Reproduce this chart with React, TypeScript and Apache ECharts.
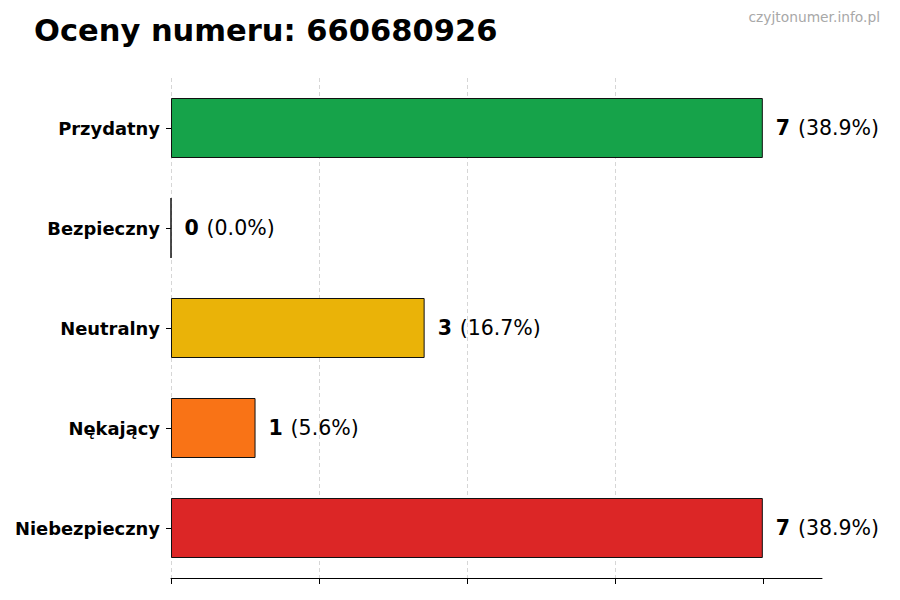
import React, { useEffect, useRef } from 'react'
import * as echarts from 'echarts'

const categories = ['Przydatny', 'Bezpieczny', 'Neutralny', 'Nękający', 'Niebezpieczny']
const counts = [7, 0, 3, 1, 7]
const barColors = ['#16a34a', '#9ca3af', '#eab308', '#f97316', '#dc2626']
const xTicks = [0, 1.75, 3.5, 5.25, 7]
const xMax = 7.7

const FONT = '"DejaVu Sans", sans-serif'

const App: React.FC = () => {
  const chartRef = useRef<HTMLDivElement>(null)

  useEffect(() => {
    document.body.style.margin = '0'
    if (!chartRef.current) return
    const chart = echarts.init(chartRef.current, undefined, { renderer: 'svg' })
    const total = counts.reduce((a, b) => a + b, 0)

    const option: echarts.EChartsOption = {
      animation: false,
      backgroundColor: '#ffffff',
      textStyle: { fontFamily: FONT },
      title: {
        text: 'Oceny numeru: 660680926',
        left: 34,
        top: 15,
        padding: 0,
        textStyle: { fontFamily: FONT, fontSize: 30.5, fontWeight: 'bold', color: '#000000' }
      },
      graphic: [
        {
          type: 'text',
          right: 20,
          top: 10,
          style: {
            text: 'czyjtonumer.info.pl',
            fontFamily: FONT,
            fontSize: 13.8,
            fill: '#a8a8a8'
          }
        }
      ],
      grid: { left: 171, right: 78, top: 78, bottom: 22 },
      xAxis: {
        type: 'value',
        min: 0,
        max: xMax,
        interval: 1.75,
        axisLine: { show: true, onZero: false, lineStyle: { color: '#000000', width: 1 } },
        axisTick: { show: true, length: 6, customValues: xTicks, lineStyle: { color: '#000000' } },
        axisLabel: { show: false },
        splitLine: {
          show: true,
          showMinLine: true,
          showMaxLine: false,
          lineStyle: { color: '#cccccc', type: [4, 3], width: 0.8 }
        }
      },
      yAxis: {
        type: 'category',
        data: categories,
        inverse: true,
        axisLine: { show: false },
        axisTick: { show: true, alignWithLabel: true, length: 5, lineStyle: { color: '#000000' } },
        axisLabel: {
          margin: 11,
          color: '#000000',
          fontFamily: FONT,
          fontSize: 17.9,
          fontWeight: 'bold'
        },
        splitLine: { show: false }
      },
      series: [
        {
          type: 'bar',
          barWidth: 60,
          data: counts.map((v, i) => ({
            value: v,
            itemStyle: { color: barColors[i], borderColor: '#111111', borderWidth: 1 }
          })),
          label: {
            show: true,
            position: 'right',
            distance: 13,
            formatter: (p: any) => {
              const pct = total ? ((p.value / total) * 100).toFixed(1) : '0.0'
              return `{b|${p.value}} {r|(${pct}%)}`
            },
            rich: {
              b: { fontFamily: FONT, fontSize: 20.5, fontWeight: 'bold', color: '#000000' },
              r: { fontFamily: FONT, fontSize: 20.5, color: '#000000', padding: [0, 0, 0, 4] }
            }
          }
        }
      ]
    }

    chart.setOption(option)
    return () => {
      chart.dispose()
    }
  }, [])

  return <div ref={chartRef} style={{ width: 900, height: 600 }} />
}

export default App
